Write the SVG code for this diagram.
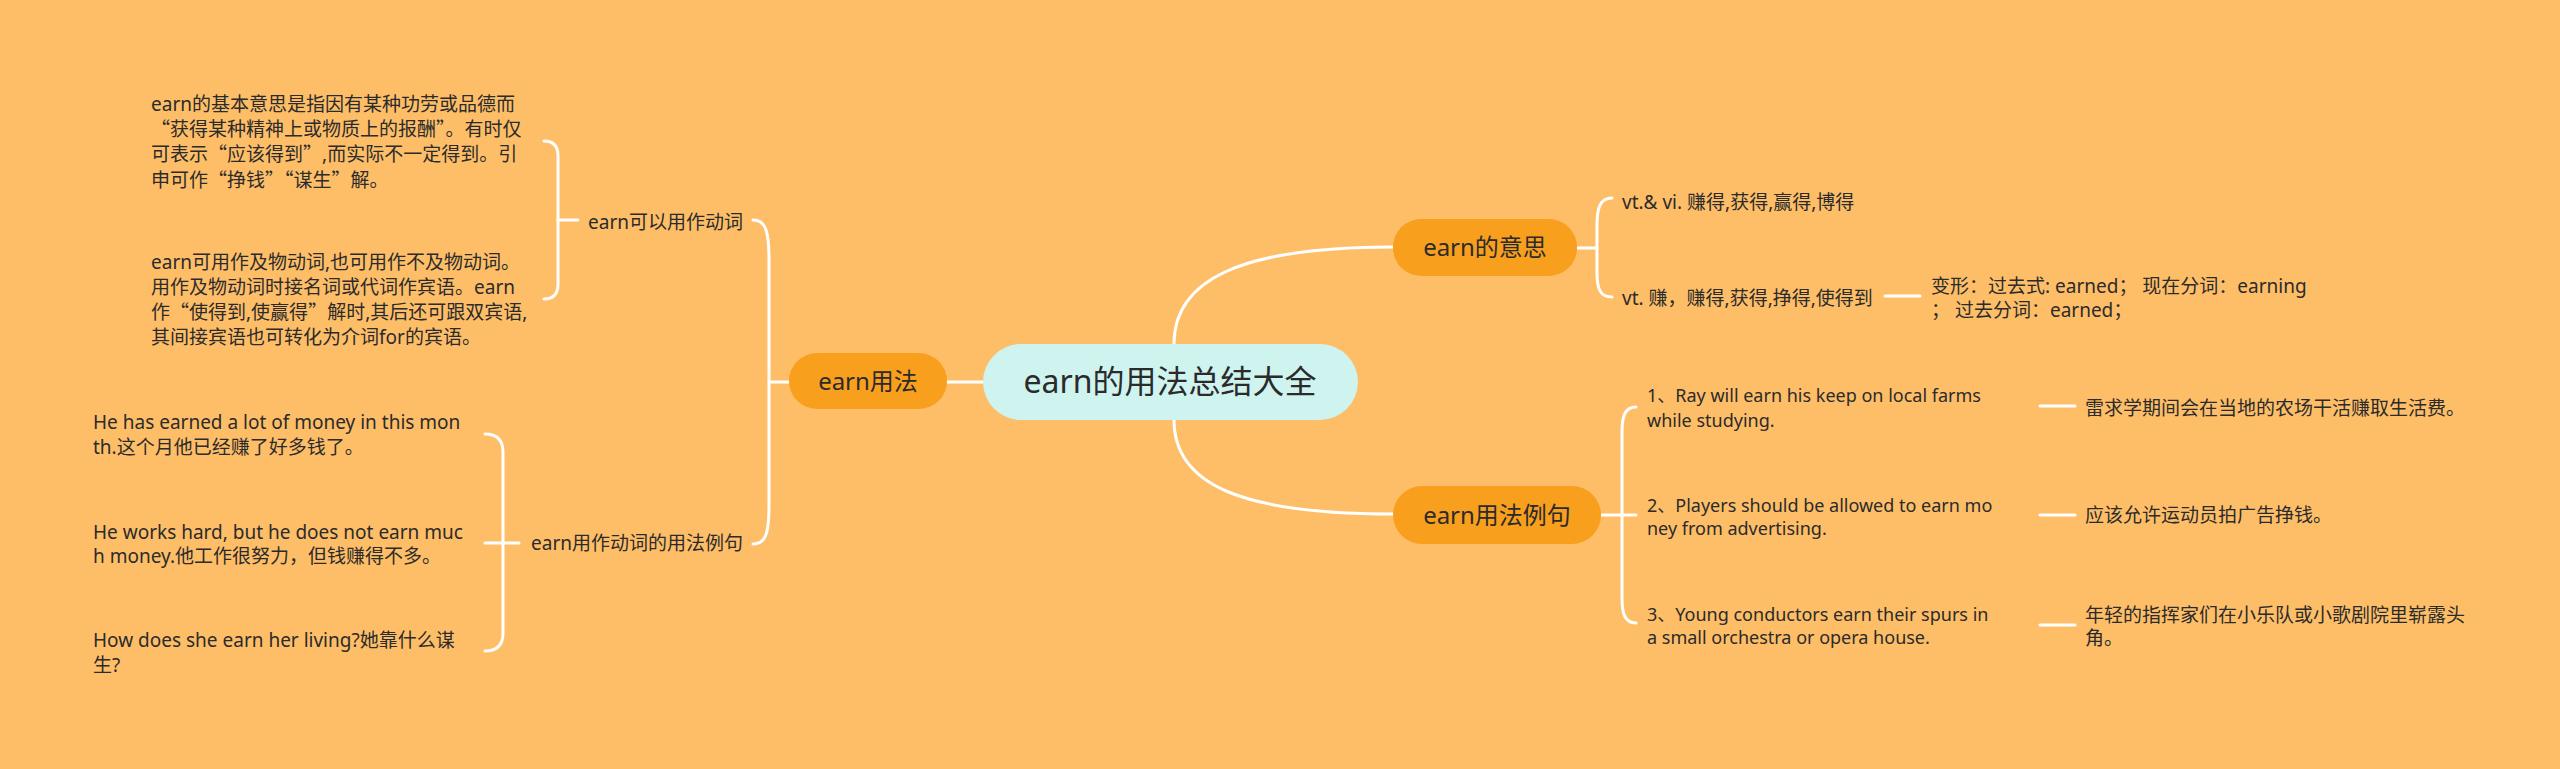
<svg xmlns="http://www.w3.org/2000/svg" width="2560" height="769" viewBox="0 0 2560 769">
<style>
.t{font-family:"Noto Sans","Noto Sans CJK SC",sans-serif;font-size:19px;fill:#2b2b2b}
.e{font-size:18px}
.q{font-family:"Noto Sans CJK SC",sans-serif}
.c{stroke:#ffffff;stroke-width:3;fill:none;stroke-linecap:round}
.sub{fill:#F99F1E}
.st{font-family:"Noto Sans","Noto Sans CJK SC",sans-serif;font-size:24px;fill:#2b2b2b;text-anchor:middle}
</style>
<rect width="2560" height="769" fill="#FEBE68"/>
<g id="connectors">
<path class="c" d="M947,382 L983,382"/>
<path class="c" d="M1174,344 C1174,280 1240,247 1393,247"/>
<path class="c" d="M1174,420 C1174,484 1240,514 1393,514"/>
<path class="c" d="M769,382 L789,382"/>
<path class="c" d="M753,220 C766,220 769,232 769,260 L769,505 C769,533 766,544 753,544"/>
<path class="c" d="M558,220 L578,220"/>
<path class="c" d="M544,141 Q558,141 558,156 L558,284 Q558,299 544,299"/>
<path class="c" d="M485,543 L519,543"/>
<path class="c" d="M485,434 Q503,434 503,452 L503,633 Q503,651 485,651"/>
<path class="c" d="M1577,248 L1597,248"/>
<path class="c" d="M1612,198 C1600,198 1597,208 1597,225 L1597,272 C1597,289 1600,297 1612,297"/>
<path class="c" d="M1885,296 L1920,296"/>
<path class="c" d="M1601,515 L1636,515"/>
<path class="c" d="M1636,407 C1625,407 1622,416 1622,432 L1622,598 C1622,614 1625,623 1636,623"/>
<path class="c" d="M2040,406 L2075,406"/>
<path class="c" d="M2040,515 L2075,515"/>
<path class="c" d="M2040,625 L2075,625"/>
</g>
<g id="root">
<rect x="983" y="344" width="375" height="76" rx="38" fill="#CFF4F0"/>
<text x="1170" y="393" font-family="Noto Sans, Noto Sans CJK SC, sans-serif" font-size="32" fill="#2b2b2b" text-anchor="middle">earn的用法总结大全</text>
</g>
<g id="usage">
<rect class="sub" x="789" y="353" width="158" height="56" rx="28"/>
<text class="st" x="868" y="390">earn用法</text>
</g>
<g id="meaning">
<rect class="sub" x="1393" y="219" width="184" height="57" rx="28"/>
<text class="st" x="1485" y="256">earn的意思</text>
</g>
<g id="examples">
<rect class="sub" x="1393" y="486" width="208" height="58" rx="29"/>
<text class="st" x="1497" y="524">earn用法例句</text>
</g>
<g id="verb-label">
<text class="t" x="743" y="229" text-anchor="end">earn可以用作动词</text>
</g>
<g id="verb-examples-label">
<text class="t" x="743" y="550" text-anchor="end">earn用作动词的用法例句</text>
</g>
<g id="verb-text1">
<text class="t" x="151" y="111">earn的基本意思是指因有某种功劳或品德而</text>
<text class="t" x="151" y="136"><tspan class="q">“</tspan>获得某种精神上或物质上的报酬<tspan class="q">”</tspan>。有时仅</text>
<text class="t" x="151" y="161">可表示<tspan class="q">“</tspan>应该得到<tspan class="q">”</tspan>,而实际不一定得到。引</text>
<text class="t" x="151" y="187">申可作<tspan class="q">“</tspan>挣钱<tspan class="q">”“</tspan>谋生<tspan class="q">”</tspan>解。</text>
</g>
<g id="verb-text2">
<text class="t" x="151" y="269">earn可用作及物动词,也可用作不及物动词。</text>
<text class="t" x="151" y="294">用作及物动词时接名词或代词作宾语。earn</text>
<text class="t" x="151" y="319">作<tspan class="q">“</tspan>使得到,使赢得<tspan class="q">”</tspan>解时,其后还可跟双宾语,</text>
<text class="t" x="151" y="344">其间接宾语也可转化为介词for的宾语。</text>
</g>
<g id="ex-left1">
<text class="t" x="93" y="429">He has earned a lot of money in this mon</text>
<text class="t" x="93" y="454">th.这个月他已经赚了好多钱了。</text>
</g>
<g id="ex-left2">
<text class="t" x="93" y="539">He works hard, but he does not earn muc</text>
<text class="t" x="93" y="563">h money.他工作很努力，但钱赚得不多。</text>
</g>
<g id="ex-left3">
<text class="t" x="93" y="647">How does she earn her living?她靠什么谋</text>
<text class="t" x="93" y="672">生?</text>
</g>
<g id="meaning1">
<text class="t" x="1622" y="209">vt.&amp; vi. 赚得,获得,赢得,博得</text>
</g>
<g id="meaning2">
<text class="t" x="1622" y="305">vt. 赚，赚得,获得,挣得,使得到</text>
</g>
<g id="forms">
<text class="t" x="1931" y="293">变形：过去式: earned；  现在分词：earning</text>
<text class="t" x="1931" y="317">；  过去分词：earned；</text>
</g>
<g id="ex1">
<text class="t e" x="1647" y="402">1、Ray will earn his keep on local farms</text>
<text class="t e" x="1647" y="427">while studying.</text>
</g>
<g id="ex2">
<text class="t e" x="1647" y="512">2、Players should be allowed to earn mo</text>
<text class="t e" x="1647" y="535">ney from advertising.</text>
</g>
<g id="ex3">
<text class="t e" x="1647" y="621">3、Young conductors earn their spurs in</text>
<text class="t e" x="1647" y="644">a small orchestra or opera house.</text>
</g>
<g id="tr1">
<text class="t" x="2085" y="415">雷求学期间会在当地的农场干活赚取生活费。</text>
</g>
<g id="tr2">
<text class="t" x="2085" y="522">应该允许运动员拍广告挣钱。</text>
</g>
<g id="tr3">
<text class="t" x="2085" y="622">年轻的指挥家们在小乐队或小歌剧院里崭露头</text>
<text class="t" x="2085" y="645">角。</text>
</g>
</svg>
